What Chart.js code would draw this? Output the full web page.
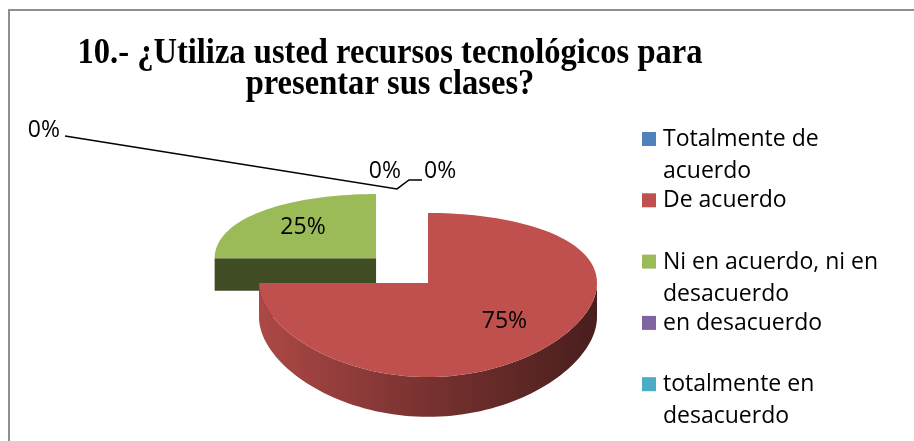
<!DOCTYPE html>
<html>
<head>
<meta charset="utf-8">
<script src="https://cdn.jsdelivr.net/npm/chart.js@4"></script>
<style>
  html, body { margin: 0; padding: 0; background: #fff; }
  canvas { display: block; }
</style>
</head>
<body>
<canvas id="pieChart" width="914" height="441"></canvas>
<script>
// ---------- datos ----------
const titleLines = ['10.- ¿Utiliza usted recursos tecnológicos para', 'presentar sus clases?'];
const categories = ['Totalmente de acuerdo', 'De acuerdo', 'Ni en acuerdo, ni en desacuerdo', 'en desacuerdo', 'totalmente en desacuerdo'];
const legendLines = [['Totalmente de', 'acuerdo'], ['De acuerdo'], ['Ni en acuerdo, ni en', 'desacuerdo'], ['en desacuerdo'], ['totalmente en', 'desacuerdo']];
const percentages = [0, 75, 25, 0, 0];
const sliceColors = ['#4F81BD', '#C0504D', '#9BBB59', '#8064A2', '#4BACC6'];

// ---------- estilo 3D ----------
const TILT = 0.475;      // alto/ancho de la elipse
const PERSP = 0.146;     // perspectiva (frente mas grande)
const DEPTH = 34;        // grosor del pastel
const explode = [0.455, 0, 0.455, 0.455, 0.455];
const LABEL_FONT = '23px "Open Sans"';

function shade(hex, f) {
    const n = parseInt(hex.slice(1), 16);
    const r = Math.round(((n >> 16) & 255) * f);
    const g = Math.round(((n >> 8) & 255) * f);
    const b = Math.round((n & 255) * f);
    return `rgb(${r},${g},${b})`;
}

// proyecta un punto del plano del pastel (X, Y en radios, z 0 = arriba, 1 = abajo)
function makeProjector(a, oy) {
    const rx = a.outerRadius, ry = rx * TILT;
    const sApex = 1 / (1 - PERSP * oy);
    return (X, Y, z) => {
        const s = 1 / (1 - PERSP * Y);
        return [a.x + rx * X * sApex, a.y + (ry * Y + DEPTH * z) * s];
    };
}

function sliceGeometry(chart) {
    const arcs = chart.getDatasetMeta(0).data;
    return arcs.map((a, i) => {
        const mid = (a.startAngle + a.endAngle) / 2;
        const ox = Math.cos(mid) * explode[i], oy = Math.sin(mid) * explode[i];
        return { i, a0: a.startAngle, a1: a.endAngle, mid, ox, oy, P: makeProjector(a, oy) };
    });
}

function arcPoints(s, b0, b1, z) {
    const n = Math.max(2, Math.ceil((b1 - b0) / (Math.PI / 90)));
    const pts = [];
    for (let k = 0; k <= n; k++) {
        const t = b0 + (b1 - b0) * k / n;
        pts.push(s.P(s.ox + Math.cos(t), s.oy + Math.sin(t), z));
    }
    return pts;
}

function fillPoly(ctx, pts, style) {
    ctx.beginPath();
    pts.forEach((p, k) => k ? ctx.lineTo(p[0], p[1]) : ctx.moveTo(p[0], p[1]));
    ctx.closePath();
    ctx.fillStyle = style;
    ctx.fill();
}

// -------------------------------
// PASTEL 3D
// -------------------------------
const pie3d = {
    id: 'pie3d',
    beforeDatasetsDraw(chart) {
        const ctx = chart.ctx;
        const slices = sliceGeometry(chart).filter(s => s.a1 - s.a0 > 1e-6);
        slices.sort((p, q) => Math.sin(p.mid) - Math.sin(q.mid));

        slices.forEach(s => {
            const col = sliceColors[s.i];
            const apexTop = s.P(s.ox, s.oy, 0), apexBot = s.P(s.ox, s.oy, 1);

            // caras radiales
            [s.a0, s.a1].forEach(ang => {
                const X = s.ox + Math.cos(ang), Y = s.oy + Math.sin(ang);
                fillPoly(ctx, [apexTop, s.P(X, Y, 0), s.P(X, Y, 1), apexBot], shade(col, 0.41));
            });

            // lado curvo (solo la mitad frontal)
            let a0 = s.a0, a1 = s.a1;
            while (a0 < 0) { a0 += Math.PI * 2; a1 += Math.PI * 2; }
            [[0, Math.PI], [Math.PI * 2, Math.PI * 3]].forEach(([lo, hi]) => {
                const b0 = Math.max(a0, lo), b1 = Math.min(a1, hi);
                if (b1 - b0 < 1e-4) return;
                const left = s.P(s.ox - 1, s.oy, 0)[0], right = s.P(s.ox + 1, s.oy, 0)[0];
                const grad = ctx.createLinearGradient(left, 0, right, 0);
                grad.addColorStop(0, shade(col, 0.9));
                grad.addColorStop(0.5, shade(col, 0.62));
                grad.addColorStop(1, shade(col, 0.38));
                const pts = arcPoints(s, b0, b1, 0).concat(arcPoints(s, b0, b1, 1).reverse());
                fillPoly(ctx, pts, grad);
            });

            // cara superior
            fillPoly(ctx, [apexTop].concat(arcPoints(s, s.a0, s.a1, 0)), col);
        });
        return false;
    },
    afterDraw(chart) {
        const ctx = chart.ctx;
        const geo = sliceGeometry(chart);
        ctx.save();

        // marco
        ctx.strokeStyle = '#8f8f8f';
        ctx.lineWidth = 2;
        ctx.beginPath();
        ctx.moveTo(9, 445);
        ctx.lineTo(9, 10);
        ctx.lineTo(920, 10);
        ctx.stroke();

        // titulo
        ctx.fillStyle = '#000';
        ctx.font = 'bold 35px "Liberation Serif"';
        ctx.textAlign = 'center';
        ctx.textBaseline = 'alphabetic';
        const sx = 625 / ctx.measureText(titleLines[0]).width;
        titleLines.forEach((line, k) => {
            ctx.save();
            ctx.translate(390, 63 + k * 31);
            ctx.scale(sx, 1);
            ctx.fillText(line, 0, 0);
            ctx.restore();
        });

        // etiquetas de datos
        ctx.font = LABEL_FONT;
        ctx.textBaseline = 'middle';
        geo.filter(s => percentages[s.i] > 0).forEach(s => {
            const f = 0.64;
            const p = s.P(s.ox + Math.cos(s.mid) * f, s.oy + Math.sin(s.mid) * f, 0);
            ctx.fillText(percentages[s.i] + '%', p[0], p[1]);
        });

        // etiquetas de 0% con lineas guia
        const top = geo[0];
        const base = chart.getDatasetMeta(0).data[0];
        const [ax, ay] = makeProjector(base, 0)(Math.cos(top.a0), Math.sin(top.a0), 0);
        const px = ax - 31, py = ay - 24;
        ctx.strokeStyle = '#000';
        ctx.lineWidth = 1.5;
        ctx.beginPath();
        ctx.moveTo(65, 136);
        ctx.lineTo(px, py);
        ctx.lineTo(px + 12, py - 9);
        ctx.lineTo(px + 25, py - 9);
        ctx.stroke();
        const zeros = percentages.map((v, i) => i).filter(i => percentages[i] === 0);
        ctx.textAlign = 'right';
        ctx.fillText(percentages[zeros[0]] + '%', 60, 130);
        ctx.fillText(percentages[zeros[1]] + '%', px + 4, py - 17);
        ctx.textAlign = 'left';
        ctx.fillText(percentages[zeros[2]] + '%', px + 27, py - 17);

        // leyenda
        ctx.textBaseline = 'alphabetic';
        ctx.textAlign = 'left';
        categories.forEach((c, i) => {
            const yb = 146 + i * 61.3;
            ctx.fillStyle = sliceColors[i];
            ctx.fillRect(642, yb - 14, 14, 14);
            ctx.fillStyle = '#000';
            legendLines[i].forEach((t, k) => ctx.fillText(t, 663, yb + k * 32));
        });
        ctx.restore();
    }
};

const ctx = document.getElementById('pieChart').getContext('2d');
const chart = new Chart(ctx, {
    type: 'pie',
    data: {
        labels: categories,
        datasets: [{
            data: percentages,
            backgroundColor: sliceColors,
            borderWidth: 0,
            radius: 169
        }]
    },
    options: {
        responsive: false,
        animation: false,
        layout: { padding: { left: 0, right: 58, top: 125, bottom: 0 } },
        plugins: {
            legend: { display: false },
            title: { display: false },
            tooltip: { enabled: false }
        }
    },
    plugins: [pie3d]
});
</script>
</body>
</html>
